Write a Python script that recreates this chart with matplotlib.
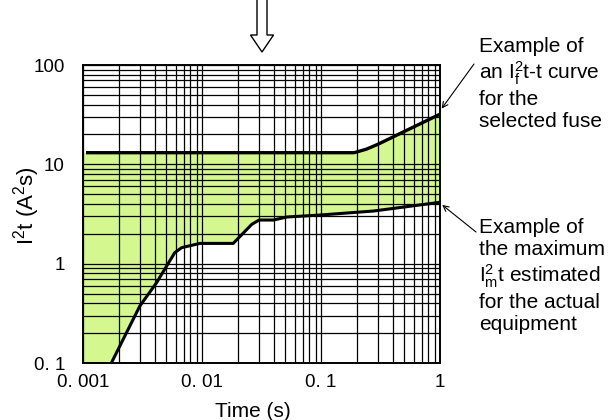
import matplotlib
matplotlib.use('Agg')
import matplotlib.pyplot as plt
import matplotlib.patches as mpatches
from matplotlib.ticker import FixedLocator, LogLocator, NullFormatter

plt.rcParams['font.family'] = ['Liberation Sans', 'DejaVu Sans']
plt.rcParams['mathtext.fontset'] = 'custom'
plt.rcParams['mathtext.rm'] = 'Liberation Sans'
plt.rcParams['mathtext.it'] = 'Liberation Sans:italic'

# upper curve: fuse I2t-t
fuse_t = [0.00106, 0.19, 0.24, 0.30, 1.0]
fuse_i2t = [13.1, 13.1, 14.2, 15.9, 32.0]

# lower curve: equipment maximum I2t
equip_t = [0.00173, 0.0030, 0.00415, 0.0059, 0.00675, 0.0096, 0.0183,
           0.0262, 0.0302, 0.0398, 0.0518, 0.0986, 0.277, 1.0]
equip_i2t = [0.1, 0.374, 0.643, 1.29, 1.45, 1.60, 1.60,
             2.49, 2.75, 2.75, 2.95, 3.09, 3.39, 4.15]

x_ticks = [0.001, 0.01, 0.1, 1]
x_labels = ['0. 001', '0. 01', '0. 1', '1']
y_ticks = [0.1, 1, 10, 100]
y_labels = ['0. 1', '1', '10', '100']

fig = plt.figure(figsize=(6.09, 4.2), dpi=100)
ax = fig.add_axes([0.1363, 0.1357, 0.5862, 0.7095])
ax.set_xscale('log')
ax.set_yscale('log')
ax.set_xlim(x_ticks[0], x_ticks[-1])
ax.set_ylim(y_ticks[0], y_ticks[-1])

# shaded band between the curves (down to the axis floor on the left)
poly_x = [x_ticks[0]] + fuse_t + equip_t[::-1] + [x_ticks[0]]
poly_y = [fuse_i2t[0]] + fuse_i2t + equip_i2t[::-1] + [y_ticks[0]]
ax.fill(poly_x, poly_y, color='#d4f790', lw=0, zorder=1)

ax.plot(fuse_t, fuse_i2t, color='black', lw=2.4, zorder=3, solid_capstyle='butt')
ax.plot(equip_t, equip_i2t, color='black', lw=2.2, zorder=3, solid_capstyle='butt')

ax.xaxis.set_major_locator(FixedLocator(x_ticks))
ax.yaxis.set_major_locator(FixedLocator(y_ticks))
ax.xaxis.set_minor_locator(LogLocator(base=10, subs=range(2, 10)))
ax.yaxis.set_minor_locator(LogLocator(base=10, subs=range(2, 10)))
ax.xaxis.set_minor_formatter(NullFormatter())
ax.yaxis.set_minor_formatter(NullFormatter())
tick_font = ['Liberation Sans Narrow', 'Liberation Sans']
ax.set_xticklabels(x_labels, family=tick_font, fontsize=13.5)
ax.set_yticklabels(y_labels, family=tick_font, fontsize=13.5)
ax.tick_params(which='both', length=0)
ax.tick_params(axis='x', pad=8)
ax.tick_params(axis='y', pad=13)
ax.grid(True, which='both', color='black', lw=0.9)
for s in ax.spines.values():
    s.set_linewidth(1.4)

ax.set_xlabel('Time (s)', fontsize=15)
ax.xaxis.set_label_coords(0.476, -0.13)
ax.set_ylabel(r'I$^{\mathregular{2}}$t (A$^{\mathregular{2}}$s)', fontsize=16)
ax.yaxis.set_label_coords(-0.115, 0.53)

# hollow arrow on top
arr = mpatches.FancyArrow(2.62, 4.25, 0, -0.57, width=0.10, head_width=0.23,
                          head_length=0.17, length_includes_head=True,
                          fc='white', ec='black', lw=1.0,
                          transform=fig.dpi_scale_trans)
fig.patches.append(arr)

# callout texts
fig.text(479 / 609, 1 - 37 / 420,
         'Example of\nan I$_\\mathregular{f}^\\mathregular{2}$t-t curve\nfor the\nselected fuse',
         fontsize=15, va='top', ha='left', linespacing=1.2)
fig.text(479 / 609, 1 - 218 / 420,
         'Example of\nthe maximum\nI$_\\mathregular{m}^\\mathregular{2}$t estimated\nfor the actual\nequipment',
         fontsize=15, va='top', ha='left', linespacing=1.2)

arrow_kw = dict(arrowstyle='->', color='black', lw=0.8, shrinkA=0, shrinkB=2)
ax.annotate('', xy=(fuse_t[-1], fuse_i2t[-1] * 1.08), xycoords='data',
            xytext=(474, 420 - 64), textcoords='figure pixels', arrowprops=arrow_kw)
ax.annotate('', xy=(equip_t[-1], equip_i2t[-1] * 0.98), xycoords='data',
            xytext=(476, 420 - 232), textcoords='figure pixels', arrowprops=arrow_kw)

fig.savefig('out.png', dpi=100)
